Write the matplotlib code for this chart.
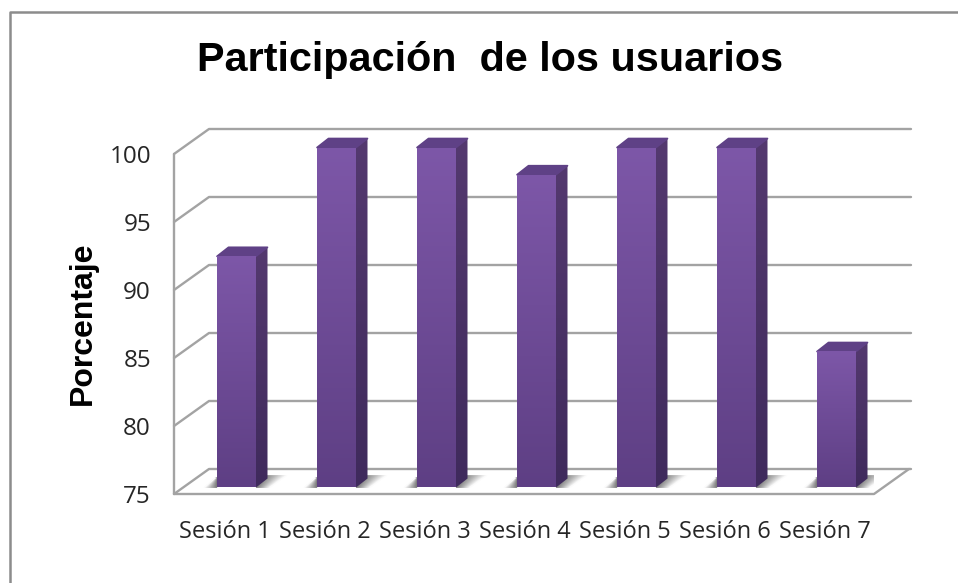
import numpy as np
import matplotlib
matplotlib.use("Agg")
import matplotlib.pyplot as plt
from matplotlib.patches import Polygon
from matplotlib.colors import LinearSegmentedColormap

categories = ["Sesión 1", "Sesión 2", "Sesión 3", "Sesión 4", "Sesión 5", "Sesión 6", "Sesión 7"]
values = [92, 100, 100, 98, 100, 100, 85]
y_ticks = [75, 80, 85, 90, 95, 100]
title = "Participación  de los usuarios"
y_label = "Porcentaje"

W, H = 958, 583
fig = plt.figure(figsize=(W / 100, H / 100), dpi=100, facecolor="white")
# front plane of the pseudo-3D chart
L, R, T, B = 174, 874, 154, 494
ax = fig.add_axes([L / W, 1 - B / H, (R - L) / W, (B - T) / H])
ax.set_xlim(-0.5, 6.5)
ax.set_ylim(75, 100)
ax.axis("off")

px_x = 7 / (R - L)            # data units per pixel in x
px_y = 25 / (B - T)           # data units per pixel in y
wall_dx, wall_dy = 35 * px_x, 25 * px_y
GRID = "#a3a3a3"
kw = dict(color=GRID, lw=1.7, clip_on=False, solid_capstyle="round", zorder=1)

x0, x1 = -0.5, 6.5
for t in y_ticks:
    ax.plot([x0, x0 + wall_dx, x1 + wall_dx + 2 * px_x], [t, t + wall_dy, t + wall_dy], **kw)
ax.plot([x0, x0], [75, 100], **kw)
ax.plot([x0, x1, x1 + wall_dx], [75, 75, 75 + wall_dy], **kw)

# bars
bar_w = 39 * px_x
bar_shift_x = 12.5 * px_x
bar_shift_y = 6.5 * px_y
depth_x, depth_y = 11.5 * px_x, 9 * px_y

front_cm = LinearSegmentedColormap.from_list("f", ["#5e3f84", "#7d57a8"])
side_cm = LinearSegmentedColormap.from_list("s", ["#3f2a5c", "#54396f"])
shadow_cm = LinearSegmentedColormap.from_list("sh", ["#707070", "#b4b4b4", "#ffffff"])
ygrad = np.linspace(0, 1, 256)[:, None]


def gradient(cm, verts, data, extent, z):
    poly = Polygon(verts, closed=True, transform=ax.transData, fc="none", ec="none")
    ax.add_patch(poly)
    im = ax.imshow(data, cmap=cm, extent=extent, origin="lower", aspect="auto",
                   vmin=0, vmax=1, zorder=z, interpolation="bilinear")
    im.set_clip_box(fig.bbox)
    im.set_clip_path(poly)


def shadow(bottom0, bottom1, top0, top1, yb, yt, n=24):
    # fading floor shadow built from thin solid slices, darkest at the bar
    s = np.linspace(0, 1, n + 1)
    for a, b in zip(s[:-1], s[1:]):
        verts = [(bottom0 + a * (bottom1 - bottom0), yb), (bottom0 + b * (bottom1 - bottom0), yb),
                 (top0 + b * (top1 - top0), yt), (top0 + a * (top1 - top0), yt)]
        c = shadow_cm((a + b) / 2)
        ax.add_patch(Polygon(verts, closed=True, fc=c, ec=c, lw=0.3, zorder=2))


for i, v in enumerate(values):
    xl = i - bar_w / 2 + bar_shift_x
    xr = xl + bar_w
    yb = 75 + bar_shift_y
    yt = v + bar_shift_y
    # floor shadow on both sides of the bar
    sh_h = 12 * px_y
    shadow(xr, xr + 14 * px_x, xr + 8 * px_x, xr + 31 * px_x, yb, yb + sh_h)
    shadow(xl, xl - 13 * px_x, xl, xl - 2 * px_x, yb, yb + sh_h * 0.8)
    # side, top and front faces
    side = [(xr, yb), (xr + depth_x, yb + depth_y), (xr + depth_x, yt + depth_y), (xr, yt)]
    gradient(side_cm, side, ygrad, (xr, xr + depth_x, yb, yt + depth_y), 3)
    top = Polygon([(xl, yt), (xl + depth_x, yt + depth_y), (xr + depth_x, yt + depth_y), (xr, yt)],
                  closed=True, fc="#5f4186", ec="#5f4186", lw=1.2, joinstyle="round",
                  zorder=3, clip_on=False)
    ax.add_patch(top)
    front = [(xl, yb), (xr, yb), (xr, yt), (xl, yt)]
    gradient(front_cm, front, ygrad, (xl, xr, yb, yt), 4)
ax.set_xlim(-0.5, 6.5)
ax.set_ylim(75, 100)

# labels
CAL = "Open Sans"
for t in y_ticks:
    ax.annotate(str(t), (x0, t), xytext=(-23, -3), textcoords="offset pixels", ha="right",
                va="center", fontsize=17.5, family=CAL, color="#262626", annotation_clip=False)
for i, c in enumerate(categories):
    ax.annotate(c, (i, 75), xytext=(1, -38), textcoords="offset pixels", ha="center",
                va="center", fontsize=17, family=CAL, color="#262626", annotation_clip=False)

fig.text(490 / W, 1 - 60 / H, title, ha="center", va="center", fontsize=29.8,
         fontweight="bold", family="Liberation Sans", color="black")
fig.text(83 / W, 1 - 323 / H, y_label, ha="center", va="center", rotation=90, fontsize=23,
         fontweight="bold", family="Liberation Sans", color="black")

# chart frame
fig.add_artist(plt.Line2D([10 / W, 10 / W, 1], [0, 1 - 12 / H, 1 - 12 / H], color="#8c8c8c", lw=1.8))

fig.savefig("out.png", dpi=100)
